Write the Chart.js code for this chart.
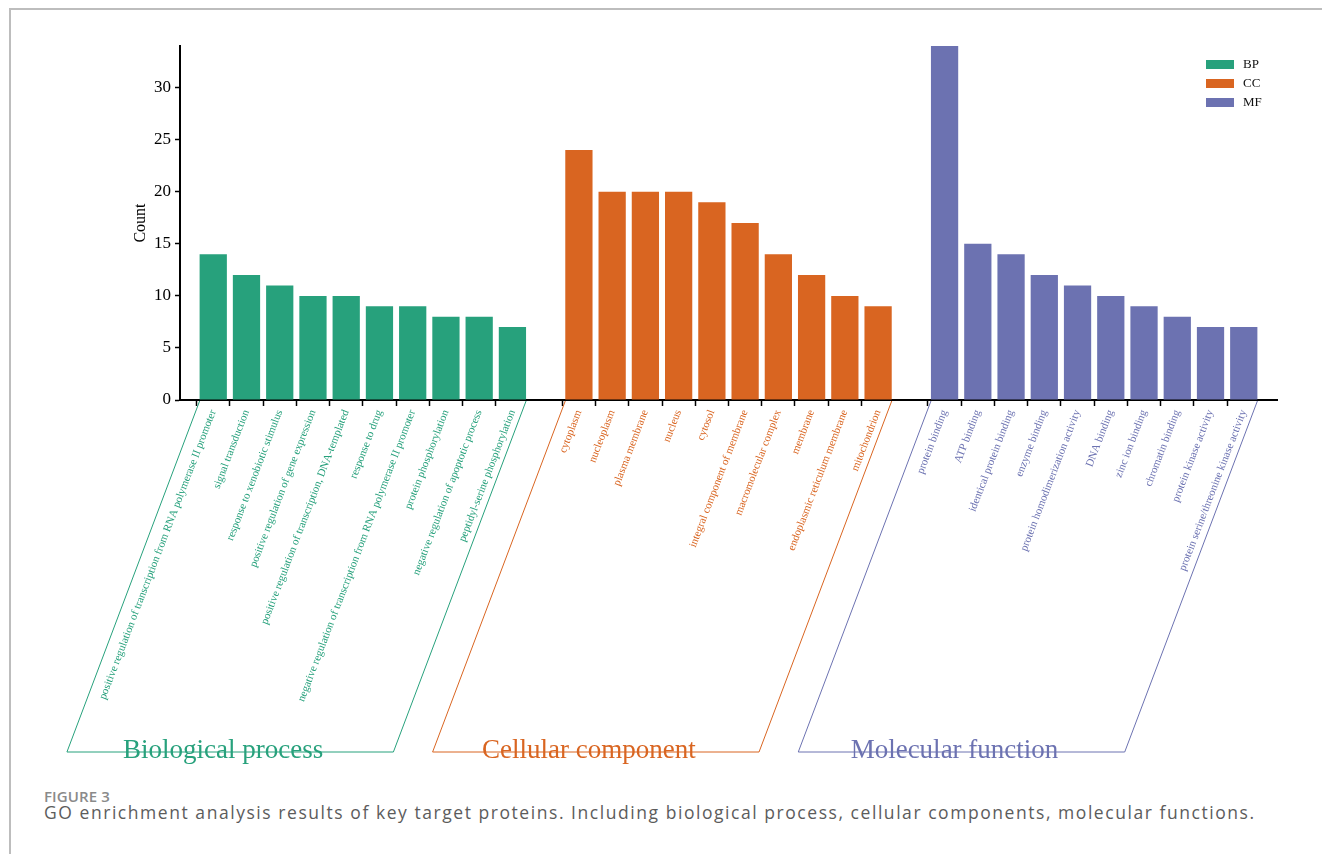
<!DOCTYPE html>
<html lang="en">
<head>
  <meta charset="UTF-8" />
  <title>GO enrichment - Figure 3</title>
  <script src="https://cdn.jsdelivr.net/npm/chart.js"></script>
  <style>
    html, body { margin: 0; padding: 0; background: #fff; overflow: hidden; }
    .frame {
      position: absolute; left: 9px; top: 8px; width: 1320px; height: 860px;
      border-left: 2px solid #bdbdbd; border-top: 2px solid #bdbdbd;
    }
    #goChart { position: absolute; left: 0; top: 0; }
    .fig-label {
      position: absolute; left: 44px; top: 786px;
      font-family: "Open Sans", sans-serif; font-weight: 600; font-size: 15px;
      color: #8a8a8a; letter-spacing: 0.1px;
    }
    .fig-caption {
      position: absolute; left: 44px; top: 800px;
      font-family: "Open Sans", sans-serif; font-size: 17.5px;
      color: #5c5c5c; white-space: nowrap; letter-spacing: 1.55px;
    }
  </style>
</head>
<body>
  <div class="frame"></div>
  <canvas id="goChart" width="1322" height="780"></canvas>
  <div class="fig-label">FIGURE 3</div>
  <div class="fig-caption">GO enrichment analysis results of key target proteins. Including biological process, cellular components, molecular functions.</div>

  <script>
    // GO terms and gene counts
    const bpTerms = [
      "positive regulation of transcription from RNA polymerase II promoter",
      "signal transduction",
      "response to xenobiotic stimulus",
      "positive regulation of gene expression",
      "positive regulation of transcription, DNA-templated",
      "response to drug",
      "negative regulation of transcription from RNA polymerase II promoter",
      "protein phosphorylation",
      "negative regulation of apoptotic process",
      "peptidyl-serine phosphorylation"
    ];
    const bpCounts = [14, 12, 11, 10, 10, 9, 9, 8, 8, 7];

    const ccTerms = [
      "cytoplasm", "nucleoplasm", "plasma membrane", "nucleus", "cytosol",
      "integral component of membrane", "macromolecular complex", "membrane",
      "endoplasmic reticulum membrane", "mitochondrion"
    ];
    const ccCounts = [24, 20, 20, 20, 19, 17, 14, 12, 10, 9];

    const mfTerms = [
      "protein binding", "ATP binding", "identical protein binding", "enzyme binding",
      "protein homodimerization activity", "DNA binding", "zinc ion binding",
      "chromatin binding", "protein kinase activity", "protein serine/threonine kinase activity"
    ];
    const mfCounts = [34, 15, 14, 12, 11, 10, 9, 8, 7, 7];

    const yTicks = [0, 5, 10, 15, 20, 25, 30];
    const groupNames = ["Biological process", "Cellular component", "Molecular function"];
    const seriesNames = ["BP", "CC", "MF"];
    const colors = ["#27a17c", "#d96521", "#6c72b1"];

    // x slots: empty, BP x10, empty, CC x10, empty, MF x10, empty
    const labels = ["", ...bpTerms, "", ...ccTerms, "", ...mfTerms, ""];
    const groupStart = [1, 12, 23];

    function slotData(g, counts) {
      const arr = new Array(labels.length).fill(null);
      counts.forEach((v, i) => { arr[groupStart[g] + i] = v; });
      return arr;
    }

    function groupOf(index) {
      for (let g = 2; g >= 0; g--) {
        if (index >= groupStart[g]) return g;
      }
      return 0;
    }

    const serif = "'Liberation Serif', 'Times New Roman', serif";

    // parallelogram brackets, group titles and legend
    const goDecor = {
      id: "goDecor",
      afterDraw(chart) {
        const ctx = chart.ctx;
        const axisY = chart.chartArea.bottom + 1;
        const bottomY = 752;
        const shift = (bottomY - axisY) * 0.378;
        ctx.save();
        for (let g = 0; g < 3; g++) {
          const meta = chart.getDatasetMeta(g);
          const first = meta.data[groupStart[g]];
          const last = meta.data[groupStart[g] + 9];
          const xl = first.x - first.width / 2;
          const xr = last.x + last.width / 2;
          ctx.strokeStyle = colors[g];
          ctx.lineWidth = 1;
          ctx.beginPath();
          ctx.moveTo(xl, axisY);
          ctx.lineTo(xl - shift, bottomY);
          ctx.lineTo(xr - shift, bottomY);
          ctx.lineTo(xr, axisY);
          ctx.stroke();

          ctx.fillStyle = colors[g];
          ctx.font = "27px " + serif;
          ctx.textAlign = "center";
          ctx.textBaseline = "alphabetic";
          ctx.fillText(groupNames[g], (xl + xr) / 2 - shift - 7, bottomY + 6);
        }

        // legend, top right inside the plot
        const lx = chart.chartArea.right - 71;
        let ly = chart.chartArea.top + 14;
        chart.data.datasets.forEach((ds) => {
          ctx.fillStyle = ds.backgroundColor;
          ctx.fillRect(lx, ly, 28, 9);
          ctx.fillStyle = "#111";
          ctx.font = "13px " + serif;
          ctx.textAlign = "left";
          ctx.textBaseline = "middle";
          ctx.fillText(ds.label, lx + 37, ly + 5);
          ly += 19;
        });
        ctx.restore();
      }
    };

    new Chart(document.getElementById("goChart"), {
      type: "bar",
      data: {
        labels: labels,
        datasets: [0, 1, 2].map((g) => ({
          label: seriesNames[g],
          data: slotData(g, [bpCounts, ccCounts, mfCounts][g]),
          backgroundColor: colors[g],
          grouped: false,
          skipNull: true,
          barPercentage: 0.82,
          categoryPercentage: 1
        }))
      },
      options: {
        responsive: false,
        animation: false,
        layout: { padding: { left: 127, right: 45, top: 46, bottom: 0 } },
        plugins: {
          legend: { display: false },
          tooltip: { enabled: false }
        },
        scales: {
          x: {
            type: "category",
            offset: false,
            grid: {
              drawOnChartArea: false,
              tickLength: 6,
              tickWidth: 1.5,
              tickColor: (c) => (labels[c.index] ? "#000" : "rgba(0,0,0,0)")
            },
            border: { color: "#000", width: 2 },
            ticks: {
              autoSkip: false,
              minRotation: 69,
              maxRotation: 69,
              padding: 2,
              color: (c) => colors[groupOf(c.index)],
              font: { family: serif, size: 11 }
            },
            afterFit: (scale) => { scale.height = 780 - 400; }
          },
          y: {
            min: 0,
            max: 34,
            grid: { drawOnChartArea: false, tickLength: 5, tickWidth: 1.5, tickColor: "#000" },
            border: { color: "#000", width: 2 },
            ticks: {
              color: "#000",
              padding: 4,
              font: { family: serif, size: 17 }
            },
            afterBuildTicks: (scale) => { scale.ticks = yTicks.map((v) => ({ value: v })); },
            title: {
              display: true,
              text: "Count",
              color: "#000",
              font: { family: serif, size: 16 }
            },
            afterFit: (scale) => { scale.width = 53; }
          }
        }
      },
      plugins: [goDecor]
    });
  </script>
</body>
</html>
